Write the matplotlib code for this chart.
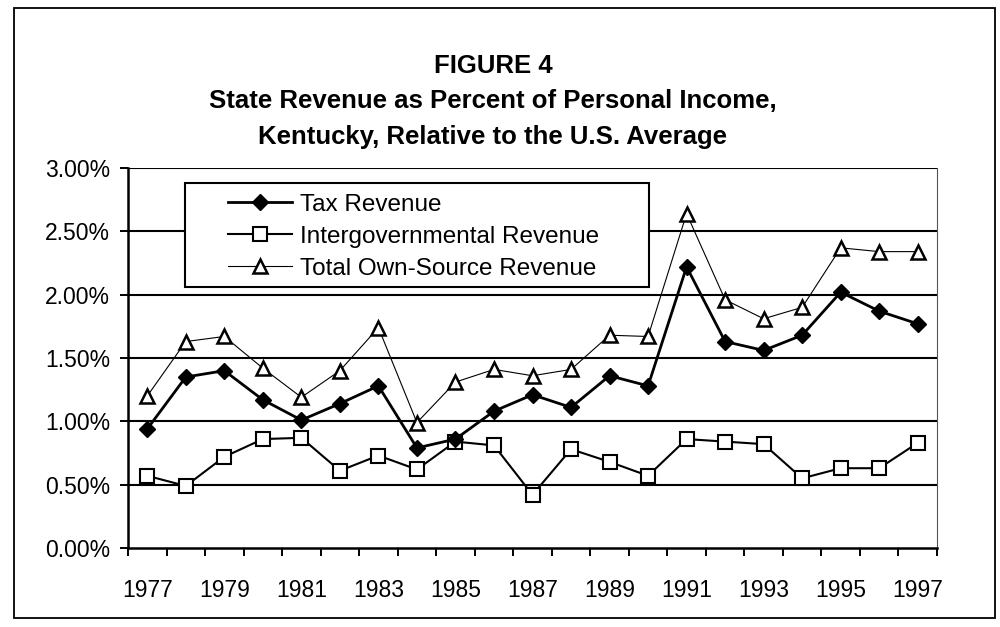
import numpy as np
import matplotlib.pyplot as plt
from matplotlib.patches import Rectangle

plt.rcParams['font.family'] = ['Liberation Sans', 'DejaVu Sans']

# Datos (porcentaje del ingreso personal, KY relativo a EE.UU.)

years = list(range(1977, 1998))
tax = [0.94, 1.35, 1.40, 1.17, 1.01, 1.14, 1.28, 0.79, 0.86, 1.08, 1.21,
       1.11, 1.36, 1.28, 2.22, 1.63, 1.56, 1.68, 2.02, 1.87, 1.77]
intergov = [0.57, 0.49, 0.72, 0.86, 0.87, 0.61, 0.73, 0.62, 0.84, 0.81, 0.42,
            0.78, 0.68, 0.57, 0.86, 0.84, 0.82, 0.55, 0.63, 0.63, 0.83]
own_source = [1.20, 1.63, 1.67, 1.42, 1.19, 1.40, 1.74, 0.99, 1.31, 1.41, 1.36,
              1.41, 1.68, 1.67, 2.64, 1.96, 1.81, 1.90, 2.37, 2.34, 2.34]
labels = ["Tax Revenue", "Intergovernmental Revenue", "Total Own-Source Revenue"]
yticks = [0.0, 0.5, 1.0, 1.5, 2.0, 2.5, 3.0]

x = np.arange(len(years))

fig = plt.figure(figsize=(10, 6.27), dpi=100)
ax = fig.add_axes([0.128, 0.126, 0.809, 0.606])

# Marco exterior
fig.patches.append(Rectangle((0.014, 1 - 618 / 627), 0.981, 610 / 627,
                             transform=fig.transFigure, fill=False,
                             ec="black", lw=1.3))

# Titulo
fig.text(0.493, 1 - 66 / 627, "FIGURE 4", ha="center", va="center",
         fontsize=18.5, fontweight="bold")
fig.text(0.493, 1 - 101 / 627, "State Revenue as Percent of Personal Income,",
         ha="center", va="center", fontsize=18.5, fontweight="bold")
fig.text(0.493, 1 - 137 / 627, "Kentucky, Relative to the U.S. Average",
         ha="center", va="center", fontsize=18.5, fontweight="bold")

# Lineas horizontales
for v in yticks[1:]:
    ax.axhline(v, color="black", lw=1.5, zorder=1)

ax.plot(x, tax, color="black", lw=2.0, marker="D", ms=8,
        mfc="black", mec="black", label=labels[0], zorder=4)
ax.plot(x, intergov, color="black", lw=1.5, marker="s", ms=9.5,
        mfc="white", mec="black", mew=1.5, label=labels[1], zorder=3)
ax.plot(x, own_source, color="black", lw=0.8, marker="^", ms=9.5,
        mfc="white", mec="black", mew=1.8, label=labels[2], zorder=3)

ax.set_xlim(-0.5, len(years) - 0.5)
ax.set_ylim(0, 3.0)

ax.set_yticks(yticks)
ax.set_yticklabels(["%.2f%%" % v for v in yticks])
ax.tick_params(axis="y", direction="out", length=6, width=1.4, pad=7,
               labelsize=16.5)

ax.set_xticks(np.arange(-0.5, len(years), 1))
ax.set_xticklabels([])
ax.tick_params(axis="x", which="major", direction="out", length=6, width=1.4)
ax.set_xticks(x[::2], minor=True)
ax.set_xticklabels([str(y) for y in years[::2]], minor=True)
ax.tick_params(axis="x", which="minor", length=0, pad=22, labelsize=16.5)

for s in ["left", "bottom"]:
    ax.spines[s].set_linewidth(1.8)
ax.spines["top"].set_visible(False)
ax.spines["right"].set_linewidth(0.8)
ax.spines["right"].set_linestyle((0, (2, 1)))
ax.spines["right"].set_color("#555555")

# Cuadro de la leyenda
ax.add_patch(Rectangle((0.0705, 0.687), 0.5735, 0.2735, transform=ax.transAxes,
                       facecolor="white", edgecolor="black", lw=1.5, zorder=5))
leg = ax.legend(loc="upper left", bbox_to_anchor=(0.1236, 0.933),
                frameon=False, borderpad=0, borderaxespad=0, fontsize=17.5,
                handlelength=2.63, handletextpad=0.33, labelspacing=0.42)
leg.set_zorder(6)

fig.savefig("out.png", dpi=100)
